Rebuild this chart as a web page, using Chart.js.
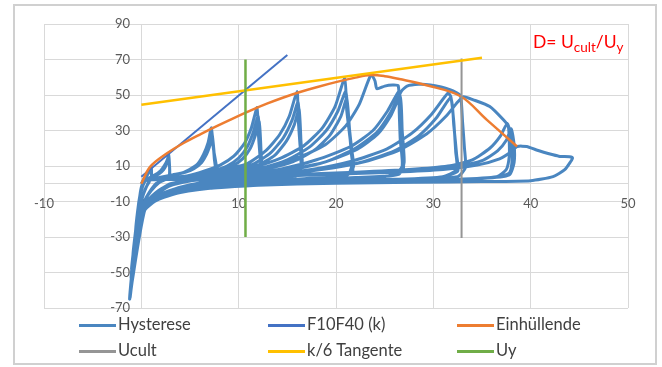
<!DOCTYPE html>
<html>
<head>
<meta charset="utf-8">
<script src="https://cdn.jsdelivr.net/npm/chart.js@4"></script>
<style>
	body { margin: 0; background: #fff; }
	#wrap { position: relative; width: 662px; height: 367px; font-family: Lato, 'Liberation Sans', sans-serif; }
	#frame { position: absolute; left: 13px; top: 4px; width: 640px; height: 357px; border: 2px solid #d0d0d0; }
	canvas { position: absolute; left: 0; top: 0; }
	.note { position: absolute; left: 533px; top: 31px; color: #ff0000; font-size: 17.5px; white-space: nowrap; }
	.note sub { font-size: 13.5px; vertical-align: -4px; line-height: 0; }
	.leg { position: absolute; font-size: 16.5px; color: #404040; line-height: 18px; white-space: nowrap; }
	.leg i { display: inline-block; width: 37px; height: 3px; vertical-align: middle; margin-right: 2px; }
</style>
</head>
<body>
<div id="wrap">
	<div id="frame"></div>
	<canvas id="chart" width="662" height="367"></canvas>
	<div class="note">D= U<sub>cult</sub>/U<sub>y</sub></div>
	<div id="legend"></div>
</div>
<script>
const xTicks = [-10, 0, 10, 20, 30, 40, 50];
const yTicks = [-70, -50, -30, -10, 10, 30, 50, 70, 90];

// load / slip curve, read cycle by cycle off the picture
const hysterese = [
	[0, 0],
	[0.3, 3], [0.6, 5], [0.85, 7.5], [1.0, 9.5], [1.05, 6], [1.0, 3], [0.8, 1.5], [0.5, -2], [0.2, -6], [-0.3, -12], [0, -3], [0.2, 1],
	[0.5, 4], [0.8, 6.5], [1.0, 8.5], [1.05, 4], [0.8, 1], [0.4, -3], [0.1, -8], [-0.35, -15], [0, -4], [0.2, 1],
	[0.7, 3], [1.4, 5], [2.0, 7.5], [2.4, 10.5], [2.7, 14], [2.8, 16.5], [2.9, 10], [2.9, 5], [2.5, 2.5], [1.8, 0.5], [1, -4], [0.3, -10], [-0.4, -18], [-0.15, -8], [0, -2], [0.3, 1.5],
	[1, 3.5], [1.8, 5.5], [2.3, 8], [2.6, 11], [2.8, 14.5], [2.9, 9], [2.85, 4], [2.3, 2], [1.5, 0], [0.8, -5], [0.2, -11], [-0.45, -20], [-0.2, -9], [0.05, -1], [0.4, 2],
	// ~7 mm
	[1.4, 2.5], [2.9, 4.5], [4.0, 5.8], [4.9, 7.9], [5.8, 11.3], [6.4, 16.7], [6.85, 23], [7.2, 31.5], [7.4, 20], [7.7, 10], [7.6, 5], [7, 3], [5, 1.5], [3, -1], [1.8, -5], [0.8, -10], [0.1, -14], [-0.5, -24], [-0.25, -10], [0, -3], [0.4, 1.5],
	[1.5, 3], [3.2, 5], [4.3, 6.2], [5.2, 8.4], [6.0, 11.8], [6.55, 17], [6.95, 23], [7.25, 28.5], [7.5, 16], [7.6, 7], [7, 3.5], [5, 2], [3, 0], [1.5, -5], [0.5, -11], [-0.55, -26], [-0.25, -11], [0, -2], [0.5, 2],
	[1.6, 3.2], [3.4, 5.2], [4.5, 6.5], [5.4, 8.5], [6.2, 12], [6.7, 16.5], [7.05, 21.5], [7.3, 26], [7.5, 14], [7.6, 6], [6.5, 3], [4, 1.5], [2, -3], [0.7, -9], [0, -14], [-0.6, -28], [-0.3, -12], [0, -3], [0.5, 2],
	// ~12 mm
	[2.4, 2.5], [4.8, 4.5], [6.5, 7.2], [8.1, 10.5], [9.5, 15.5], [10.6, 22.8], [11.3, 31.4], [11.9, 43], [12.0, 30], [12.2, 15], [12.3, 7], [11.5, 3.5], [9, 2], [6, 0.5], [4, -2], [2, -6], [0.8, -11], [0.1, -15], [-0.6, -30], [-0.3, -13], [0, -3], [0.5, 2],
	[2.6, 3], [5.4, 5], [7.2, 7], [8.8, 10], [10, 14.5], [10.9, 21], [11.5, 29], [12.0, 38], [12.2, 20], [12.3, 8], [11.3, 3], [8, 1.5], [5, -1], [2.5, -5], [1, -10], [0.1, -15], [-0.65, -32], [-0.3, -14], [0, -3], [0.5, 2],
	[2.8, 3.2], [5.8, 5.2], [7.8, 7], [9.3, 9.8], [10.4, 14], [11.2, 20], [11.7, 27], [12.1, 35], [12.3, 18], [12.3, 7], [11, 3], [7, 1], [4, -2], [1.8, -7], [0.5, -13], [-0.7, -34], [-0.3, -15], [0, -3], [0.5, 2],
	// ~16 mm
	[3.2, 2.5], [6.4, 4.5], [8.8, 8.2], [10.9, 11.4], [12.8, 18.7], [14.2, 27.6], [15.2, 38], [16.0, 52], [16.1, 38], [16.3, 22], [16.5, 9], [15.8, 4], [13, 2.5], [9, 1], [6, -1], [4, -3], [2, -7], [0.8, -11.5], [0, -16], [-0.75, -36], [-0.35, -16], [0, -4], [0.5, 2],
	[3.4, 3], [7, 5], [9.6, 8], [11.5, 11], [13.3, 17.5], [14.6, 26], [15.5, 36], [16.1, 46], [16.3, 30], [16.4, 14], [16.3, 6], [14.5, 3], [10, 1.5], [6, -1.5], [3, -5], [1.2, -10], [0, -16], [-0.8, -38], [-0.35, -17], [0, -4], [0.5, 2],
	[3.6, 3.2], [7.5, 5.2], [10.2, 7.8], [12, 10.5], [13.7, 16], [14.9, 24], [15.7, 33], [16.2, 42], [16.4, 24], [16.5, 10], [15.5, 4], [11, 2], [7, -0.5], [3.5, -4.5], [1.5, -9], [0.2, -15], [-0.85, -40], [-0.4, -18], [0, -4], [0.5, 2],
	// ~21 mm
	[4.2, 2.5], [8.4, 4.5], [11.5, 9.1], [14.2, 14.1], [16.7, 21.4], [18.6, 31.5], [19.9, 43.4], [20.9, 59.5], [21.1, 41.6], [21.5, 23], [21.8, 9.7], [21, 4.5], [17, 3], [12, 1.5], [8, -0.5], [5, -3], [3, -6], [1.5, -9.5], [0.2, -16], [-0.9, -44], [-0.4, -19], [0, -4], [0.5, 2],
	[4.4, 3], [9, 5], [12.3, 8.8], [15, 13.5], [17.3, 20.8], [19, 30], [20.2, 41], [21.0, 52], [21.3, 34], [21.6, 16], [21.7, 7], [20, 3.5], [15, 2], [10, 0.5], [6, -2], [3, -5.5], [1, -11], [0, -16.5], [-0.95, -46], [-0.45, -20], [0, -4], [0.5, 2],
	[4.6, 3.2], [9.5, 5.2], [13, 8.5], [15.6, 12.5], [17.8, 19], [19.4, 27.5], [20.5, 38], [21.1, 48], [21.4, 30], [21.7, 12], [21.2, 5], [18, 3], [12, 1], [7, -1], [3.5, -4.5], [1.2, -10.5], [0.1, -16], [-1.0, -48], [-0.45, -21], [0, -4], [0.5, 2],
	// ~24 to 26 mm, load drop after the peak
	[4.7, 2.5], [9.4, 4.5], [13, 9.4], [16, 14.5], [18.9, 22], [21, 32.6], [22.4, 44.9], [23.6, 61.5], [24.0, 58], [24.2, 53.5], [25, 55], [25.8, 55.6], [26.4, 55.2], [26.5, 40], [26.6, 25], [26.8, 10], [26, 5], [22, 3.5], [16, 2], [10, 0.5], [6, -2], [3, -5.5], [1, -11], [0, -16.5], [-1.0, -50], [-0.5, -22], [0, -4], [0.5, 2],
	[5, 3], [10.5, 5], [14.5, 8.5], [18, 13.5], [21.5, 21], [23.8, 30], [25.3, 41], [26.5, 52], [26.7, 35], [26.8, 18], [26.9, 8], [25, 4], [20, 2.5], [13, 1], [8, -1], [4, -4], [1.5, -9], [0.1, -16], [-1.05, -53], [-0.5, -23], [0, -4], [0.5, 2],
	[5.3, 3.2], [11, 5.2], [15.5, 8.5], [19, 12.5], [22.2, 19.5], [24.3, 28], [25.6, 38], [26.6, 49], [26.8, 30], [27, 12], [26.5, 5.5], [23, 3.5], [16, 2], [9, 0], [4.5, -3.5], [1.5, -9], [0, -16.5], [-1.05, -55], [-0.5, -24], [0, -4], [0.5, 2],
	// ~33 mm
	[5.3, 2.5], [11, 4.5], [15.5, 8], [19, 12.5], [22, 20], [24.2, 29], [25.6, 40], [26.7, 52], [27.3, 55], [28.5, 56], [29.7, 55.7], [30.8, 54.5], [31.7, 53], [32.3, 51.5], [32.8, 49.5], [33.0, 35], [33.2, 20], [33.3, 9], [32.5, 4], [28, 2.5], [20, 1.5], [13, 0.5], [8, -1.5], [4, -4], [1.5, -9], [0, -16.5], [-1.1, -58], [-0.5, -25], [0, -4], [0.5, 2],
	[6, 3], [12.5, 5], [17.5, 8], [21.5, 12.5], [25.2, 19.5], [27.8, 28.5], [29.8, 39], [31.5, 51], [31.8, 49], [32.1, 35], [32.3, 18], [32.4, 8], [31, 4], [26, 2.5], [18, 1.5], [11, 0], [6, -2.5], [2.5, -6.5], [0.5, -12], [-1.1, -60], [-0.5, -26], [0, -4], [0.5, 2],
	[6.3, 3.2], [13, 5.2], [18.5, 8], [22.5, 12], [26, 18.5], [28.5, 27], [30.3, 37], [31.8, 48.5], [32.1, 33], [32.4, 16], [32.5, 7], [30.5, 3.5], [24, 2], [16, 1], [9, -1], [4.5, -3.5], [1.5, -9], [0, -16.5], [-1.15, -62], [-0.55, -27], [0, -4], [0.5, 2],
	// ~38 mm
	[6.5, 2.5], [13, 4.5], [18.5, 8], [23, 12.5], [26.5, 19], [29.3, 28], [31.3, 38], [32.5, 46], [33.1, 49], [34.1, 47.3], [35.8, 43.5], [37.2, 36], [37.7, 32.3], [37.8, 24], [37.8, 15.4], [37.5, 8], [36.5, 4], [32, 2.5], [24, 1.5], [15, 0.5], [9, -1.5], [4, -4.5], [1.5, -9], [0, -16.5], [-1.15, -63], [-0.55, -28], [0, -4], [0.5, 2],
	[7.5, 3], [15, 5], [22, 6.5], [27.5, 8], [31.5, 10], [34, 13.5], [35.8, 20], [36.9, 27], [37.6, 34], [38.0, 25], [38.1, 14], [37.8, 6], [36, 3.5], [30, 2], [22, 1], [14, 0], [8, -2], [4, -5], [1.5, -9.5], [0, -16.5], [-1.15, -64], [-0.55, -28], [0, -4], [0.5, 2],
	[8, 3.2], [16, 5.2], [23, 6.5], [28.5, 8], [32.5, 10], [35, 13], [36.6, 18.5], [37.5, 24.5], [38.0, 31], [38.3, 22], [38.3, 12], [37.8, 5], [35, 3], [28, 2], [20, 1], [12, -0.5], [6, -3], [2.5, -7], [0.3, -14], [-1.2, -65], [-0.6, -29], [0, -4], [0.5, 2],
	// last run out to 44 mm
	[8, 3], [18, 5], [26, 6.5], [31, 8], [34.5, 10.5], [36.8, 14], [38, 18], [38.6, 21], [39.6, 21], [40.6, 19], [42.3, 16.3], [43, 15.4], [44, 15.2], [44.3, 14.5], [44.1, 12.4], [43.5, 7.9], [42.3, 4], [40, 1.7], [35, 1.2], [28, 0.8], [20, 0.3], [12, -0.8], [7, -2.5]
];

const f10f40 = [[0, 4], [15, 72.5]];
const einhuellende = [
	[0, 0], [0.9, 9.5], [2.6, 17], [4.3, 22.8], [6.1, 28], [7.8, 32.6], [9.5, 37], [11.2, 41.2],
	[12.9, 45.1], [14.6, 48.6], [16.3, 51.7], [18, 54.4], [20.4, 57.8], [22, 59.8], [23.5, 61.2],
	[25, 60.6], [26.5, 59], [29.3, 55.5], [32.8, 49.3], [35.5, 36], [38.6, 21]
];
const ucult = [[32.9, 70.5], [32.9, -30.5]];
const tangente = [[0, 44.5], [35, 71]];
const uy = [[10.7, 70], [10.7, -30]];

const toXY = (pts) => pts.map(([x, y]) => ({ x, y }));

function line(label, pts, color, width, order, tension) {
	return {
		label,
		data: toXY(pts),
		borderColor: color,
		backgroundColor: color,
		borderWidth: width,
		showLine: true,
		pointRadius: 0,
		tension: tension || 0,
		order,
	};
}

const tickFont = { family: 'Lato', size: 13 };
const gridColor = '#d9d9d9';

const chart = new Chart(document.getElementById('chart'), {
	type: 'scatter',
	data: {
		datasets: [
			line('Hysterese', hysterese, '#4a86c0', 3, 6, 0.2),
			line('F10F40 (k)', f10f40, '#4472c4', 2, 5),
			line('Einhüllende', einhuellende, '#ed7d31', 2.5, 4, 0.35),
			line('Ucult', ucult, '#959595', 2, 3),
			line('k/6 Tangente', tangente, '#ffc000', 2.5, 2),
			line('Uy', uy, '#70ad47', 2.5, 1),
		],
	},
	options: {
		responsive: false,
		animation: false,
		devicePixelRatio: 1,
		layout: { padding: { left: 44, right: 34, top: 24, bottom: 59 } },
		plugins: { legend: { display: false }, tooltip: { enabled: false } },
		scales: {
			// grid layers, under the data
			x: {
				type: 'linear',
				min: xTicks[0],
				max: xTicks[xTicks.length - 1],
				position: { y: 0 },
				afterFit: (s) => { s.height = 0; },
				afterBuildTicks: (s) => { s.ticks = xTicks.map((v) => ({ value: v })); },
				grid: { color: gridColor, drawTicks: false },
				border: { color: gridColor },
				ticks: { display: false },
			},
			y: {
				type: 'linear',
				min: yTicks[0],
				max: yTicks[yTicks.length - 1],
				position: { x: 0 },
				afterFit: (s) => { s.width = 0; },
				afterBuildTicks: (s) => { s.ticks = yTicks.map((v) => ({ value: v })); },
				grid: { color: gridColor, drawTicks: false },
				border: { color: gridColor },
				ticks: { display: false },
			},
			// label layers, drawn over the data like in Excel
			xLabels: {
				axis: 'x',
				type: 'linear',
				min: xTicks[0],
				max: xTicks[xTicks.length - 1],
				position: { y: 0 },
				z: 1,
				afterFit: (s) => { s.height = 0; },
				afterBuildTicks: (s) => { s.ticks = xTicks.map((v) => ({ value: v })); },
				grid: { display: false, drawTicks: false },
				border: { display: false },
				ticks: { padding: 12, color: '#595959', font: tickFont, autoSkip: false, maxRotation: 0 },
			},
			yLabels: {
				axis: 'y',
				type: 'linear',
				min: yTicks[0],
				max: yTicks[yTicks.length - 1],
				position: { x: -1.15 },
				z: 1,
				afterFit: (s) => { s.width = 0; },
				afterBuildTicks: (s) => { s.ticks = yTicks.map((v) => ({ value: v })); },
				grid: { display: false, drawTicks: false },
				border: { display: false },
				ticks: { padding: 0, color: '#595959', font: tickFont, autoSkip: false },
			},
		},
	},
});

// legend in three columns, as in the original sheet
const legendCols = [79, 268, 457];
const legendRows = [315, 341];
const legendOrder = ['Hysterese', 'F10F40 (k)', 'Einhüllende', 'Ucult', 'k/6 Tangente', 'Uy'];
const legendBox = document.getElementById('legend');
legendOrder.forEach((name, i) => {
	const ds = chart.data.datasets.find((d) => d.label === name);
	const el = document.createElement('div');
	el.className = 'leg';
	el.style.left = legendCols[i % 3] + 'px';
	el.style.top = legendRows[Math.floor(i / 3)] + 'px';
	const swatch = document.createElement('i');
	swatch.style.background = ds.borderColor;
	el.appendChild(swatch);
	el.appendChild(document.createTextNode(name));
	legendBox.appendChild(el);
});
</script>
</body>
</html>
